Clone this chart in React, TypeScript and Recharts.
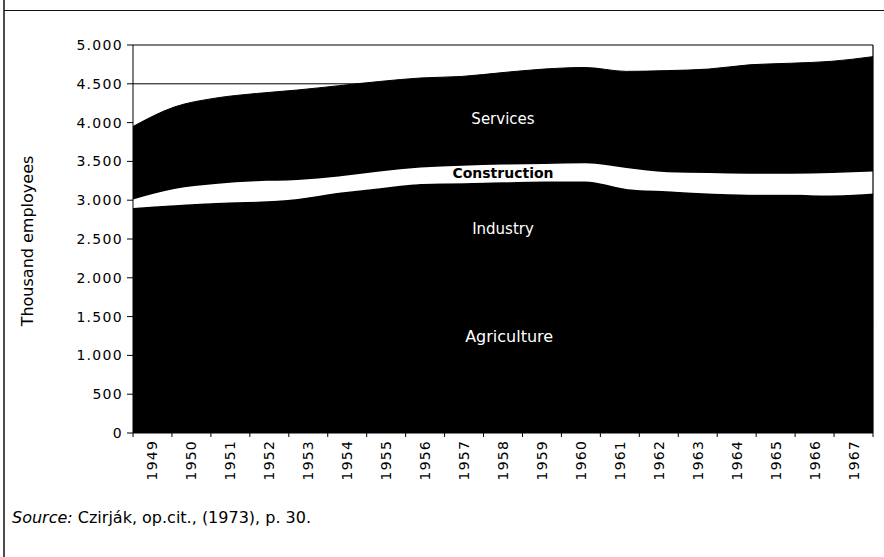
import React from 'react';
import { AreaChart, Area, XAxis, YAxis, ReferenceLine, ReferenceDot } from 'recharts';

// ---- data (thousand employees) ----
const years = [1949, 1950, 1951, 1952, 1953, 1954, 1955, 1956, 1957, 1958, 1959, 1960, 1961, 1962, 1963, 1964, 1965, 1966, 1967];
const agriculture = [2190, 2150, 2080, 2050, 2030, 2010, 1990, 1970, 1980, 1930, 1860, 1780, 1690, 1600, 1550, 1500, 1450, 1420, 1380];
const industry = [710, 785, 885, 930, 985, 1085, 1165, 1240, 1240, 1300, 1380, 1460, 1455, 1515, 1535, 1570, 1620, 1640, 1705];
const construction = [110, 210, 245, 265, 245, 210, 215, 210, 225, 230, 225, 235, 270, 245, 265, 270, 270, 290, 285];
const services = [940, 1055, 1105, 1130, 1160, 1170, 1160, 1155, 1150, 1185, 1225, 1235, 1245, 1310, 1340, 1405, 1425, 1440, 1480];
const yTicks = [0, 500, 1000, 1500, 2000, 2500, 3000, 3500, 4000, 4500, 5000];
const seriesLabels = ['Agriculture', 'Industry', 'Construction', 'Services'];
const labelAt = { year: 1958, agriculture: 1240, industry: 2630, construction: 3355, services: 4050 };

const data = years.map((year, i) => ({
  year,
  agriculture: agriculture[i],
  industry: industry[i],
  construction: construction[i],
  services: services[i],
}));

// ---- layout ----
const W = 884;
const H = 557;
const PLOT_LEFT = 133;
const PLOT_RIGHT = 873;
const HALF_BAND = (PLOT_RIGHT - PLOT_LEFT) / years.length / 2;
const FONT = "'DejaVu Sans', Verdana, sans-serif";

const fmt = (v: number) =>
  v >= 1000 ? `${Math.floor(v / 1000)}.${String(v % 1000).padStart(3, '0')}` : String(v);

const YearTick = (props: any) => {
  const { x, y, payload, index } = props;
  const isLast = index === years.length - 1;
  const ty = y + 7;
  return (
    <g>
      <line x1={x - HALF_BAND} x2={x - HALF_BAND} y1={y} y2={y + 4} stroke="#000" strokeWidth={1} />
      {isLast && <line x1={x + HALF_BAND} x2={x + HALF_BAND} y1={y} y2={y + 4} stroke="#000" strokeWidth={1} />}
      <text
        x={x}
        y={ty}
        transform={`rotate(-90 ${x} ${ty})`}
        textAnchor="end"
        dominantBaseline="central"
        fontSize={14}
        fontFamily={FONT}
        letterSpacing={1.2}
        fill="#000"
      >
        {payload.value}
      </text>
    </g>
  );
};

const makeLabel = (text: string, color: string, bold: boolean, size: number) => (p: any) => (
  <text
    x={p.cx}
    y={p.cy}
    textAnchor="middle"
    dominantBaseline="central"
    fontSize={size}
    fontWeight={bold ? 'bold' : 'normal'}
    fontFamily={FONT}
    fill={color}
  >
    {text}
  </text>
);

export default function App() {
  return (
    <div style={{ position: 'absolute', left: 0, top: 0, width: W, height: H, background: '#fff' }}>
      <AreaChart width={W} height={H} data={data} margin={{ top: 45, right: W - PLOT_RIGHT, bottom: 64, left: 0 }}>
        <XAxis xAxisId="data" type="number" dataKey="year" domain={[1949, 1967]} hide height={0} />
        <XAxis
          xAxisId="lab"
          type="number"
          dataKey="year"
          domain={[1948.5, 1967.5]}
          ticks={years}
          interval={0}
          height={60}
          tickSize={0}
          tickMargin={0}
          tickLine={false}
          axisLine={{ stroke: '#000', strokeWidth: 1 }}
          tick={<YearTick />}
        />
        <YAxis
          width={PLOT_LEFT}
          type="number"
          domain={[0, 5000]}
          ticks={yTicks}
          interval={0}
          tickFormatter={fmt}
          tickSize={6}
          tickMargin={4}
          axisLine={{ stroke: '#000', strokeWidth: 1 }}
          tickLine={{ stroke: '#000', strokeWidth: 1 }}
          tick={{ fontSize: 14, fontFamily: FONT, fill: '#000', letterSpacing: 1.3 }}
        />
        <ReferenceLine xAxisId="data" y={4500} stroke="#000" strokeWidth={1} />
        <Area xAxisId="data" type="monotone" dataKey="agriculture" name={seriesLabels[0]} stackId="1" stroke="#000" strokeWidth={4} fill="#000" fillOpacity={1} isAnimationActive={false} />
        <Area xAxisId="data" type="monotone" dataKey="industry" name={seriesLabels[1]} stackId="1" stroke="#000" strokeWidth={1} fill="#000" fillOpacity={1} isAnimationActive={false} />
        <Area xAxisId="data" type="monotone" dataKey="construction" name={seriesLabels[2]} stackId="1" stroke="none" fill="#fff" fillOpacity={1} isAnimationActive={false} />
        <Area xAxisId="data" type="monotone" dataKey="services" name={seriesLabels[3]} stackId="1" stroke="#000" strokeWidth={1} fill="#000" fillOpacity={1} isAnimationActive={false} />
        <ReferenceLine xAxisId="data" y={5000} stroke="#000" strokeWidth={1.2} />
        <ReferenceLine xAxisId="data" x={1967} stroke="#000" strokeWidth={1.2} />
        <ReferenceDot xAxisId="data" x={labelAt.year} y={labelAt.services} r={0} shape={makeLabel(seriesLabels[3], '#fff', false, 15)} />
        <ReferenceDot xAxisId="data" x={labelAt.year} y={labelAt.construction} r={0} shape={makeLabel(seriesLabels[2], '#000', true, 14)} />
        <ReferenceDot xAxisId="data" x={labelAt.year} y={labelAt.industry} r={0} shape={makeLabel(seriesLabels[1], '#fff', false, 15)} />
        <ReferenceDot xAxisId="data" x={labelAt.year + 0.15} y={labelAt.agriculture} r={0} shape={makeLabel(seriesLabels[0], '#fff', false, 16)} />
      </AreaChart>
      <svg
        width={W}
        height={H}
        style={{ position: 'absolute', left: 0, top: 0, pointerEvents: 'none' }}
      >
        <line x1={4} y1={0} x2={4} y2={H} stroke="#111" strokeWidth={1.5} />
        <line x1={4} y1={10.5} x2={W} y2={10.5} stroke="#111" strokeWidth={1} />
        <text
          x={33}
          y={241}
          transform="rotate(-90 33 241)"
          textAnchor="middle"
          fontSize={16}
          fontFamily={FONT}
          fill="#000"
        >
          Thousand employees
        </text>
        <text x={12} y={523} fontSize={16} fontFamily={FONT} fill="#000">
          <tspan fontStyle="italic">Source:</tspan> Czirják, op.cit., (1973), p. 30.
        </text>
      </svg>
    </div>
  );
}
